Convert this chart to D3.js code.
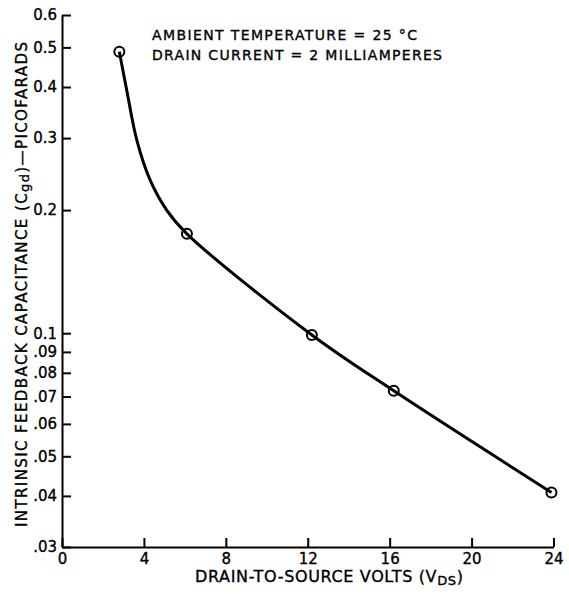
<!DOCTYPE html>
<html>
<head>
<meta charset="utf-8">
<script src="https://cdn.jsdelivr.net/npm/d3@7"></script>
<style>
  body { margin: 0; background: #fff; }
  svg text { font-family: "DejaVu Sans", sans-serif; fill: #000; stroke: #000; stroke-width: 0.35; }
  .axis path, .axis line { stroke: #000; stroke-width: 2; }
</style>
</head>
<body>
<script>
// values
var xTicks = [0, 4, 8, 12, 16, 20, 24];
var yTicks = [0.6, 0.5, 0.4, 0.3, 0.2, 0.1, 0.09, 0.08, 0.07, 0.06, 0.05, 0.04, 0.03];
var yTickLabels = ["0.6", "0.5", "0.4", "0.3", "0.2", "0.1", ".09", ".08", ".07", ".06", ".05", ".04", ".03"];

// circled measurement points
var markerVolts = [2.8, 6.1, 12.2, 16.2, 23.9];
var markerCap = [0.488, 0.175, 0.099, 0.0723, 0.0408];

// points along the drawn curve
var curveVolts = [2.8, 3.16, 3.65, 4.3, 5.11, 6.1, 12.2, 16.2, 23.9];
var curveCap = [0.488, 0.393, 0.297, 0.237, 0.200, 0.175, 0.099, 0.0723, 0.0408];

var width = 569, height = 594;

var svg = d3.select("body")
  .append("svg")
  .attr("width", width)
  .attr("height", height);

var x = d3.scaleLinear()
  .domain([0, 24])
  .range([62, 553.5]);

var y = d3.scaleLog()
  .domain([0.03, 0.6])
  .range([547, 15]);

var xAxisCall = d3.axisBottom(x)
  .tickValues(xTicks)
  .tickSizeInner(-9)
  .tickSizeOuter(0)
  .tickPadding(6)
  .tickFormat(d3.format("d"));

svg.append("g")
  .attr("class", "x axis")
  .attr("transform", "translate(0,547)")
  .call(xAxisCall)
  .selectAll("text")
  .attr("font-size", "15px")
  .attr("font-family", null)
  .attr("fill", null);

var yAxisCall = d3.axisLeft(y)
  .tickValues(yTicks)
  .tickSizeInner(-9)
  .tickSizeOuter(0)
  .tickPadding(5)
  .tickFormat(function(d, i) { return yTickLabels[i]; });

svg.append("g")
  .attr("class", "y axis")
  .attr("transform", "translate(62,0)")
  .call(yAxisCall)
  .selectAll("text")
  .attr("font-size", "15px")
  .attr("font-family", null)
  .attr("fill", null);

// curve
var curveData = curveVolts.map(function(v, i) { return [v, curveCap[i]]; });
var line = d3.line()
  .x(function(d) { return x(d[0]); })
  .y(function(d) { return y(d[1]); })
  .curve(d3.curveCatmullRom);

svg.append("path")
  .datum(curveData)
  .attr("d", line)
  .attr("fill", "none")
  .attr("stroke", "#000")
  .attr("stroke-width", 3);

svg.selectAll("circle.pt")
  .data(markerVolts)
  .enter()
  .append("circle")
  .attr("class", "pt")
  .attr("cx", function(d) { return x(d); })
  .attr("cy", function(d, i) { return y(markerCap[i]); })
  .attr("r", 5)
  .attr("fill", "none")
  .attr("stroke", "#000")
  .attr("stroke-width", 2);

// conditions note
svg.append("text")
  .attr("x", 152)
  .attr("y", 40)
  .attr("font-size", "14px")
  .attr("textLength", 265)
  .attr("lengthAdjust", "spacing")
  .text("AMBIENT TEMPERATURE = 25 °C");

svg.append("text")
  .attr("x", 152)
  .attr("y", 60)
  .attr("font-size", "14px")
  .attr("textLength", 290)
  .attr("lengthAdjust", "spacing")
  .text("DRAIN CURRENT = 2 MILLIAMPERES");

// axis labels
var xl = svg.append("text")
  .attr("x", 195)
  .attr("y", 582)
  .attr("font-size", "16px")
  .attr("textLength", 268)
  .attr("lengthAdjust", "spacing");
xl.append("tspan").text("DRAIN-TO-SOURCE VOLTS (V");
xl.append("tspan").attr("font-size", "13px").attr("dy", 3).text("DS");
xl.append("tspan").attr("dy", -3).text(")");

var yl = svg.append("text")
  .attr("transform", "translate(27,527) rotate(-90)")
  .attr("font-size", "15px")
  .attr("textLength", 485)
  .attr("lengthAdjust", "spacing");
yl.append("tspan").text("INTRINSIC FEEDBACK CAPACITANCE (C");
yl.append("tspan").attr("font-size", "13px").attr("dy", 2).text("gd");
yl.append("tspan").attr("dy", -2).text(")\u2014PICOFARADS");
</script>
</body>
</html>
